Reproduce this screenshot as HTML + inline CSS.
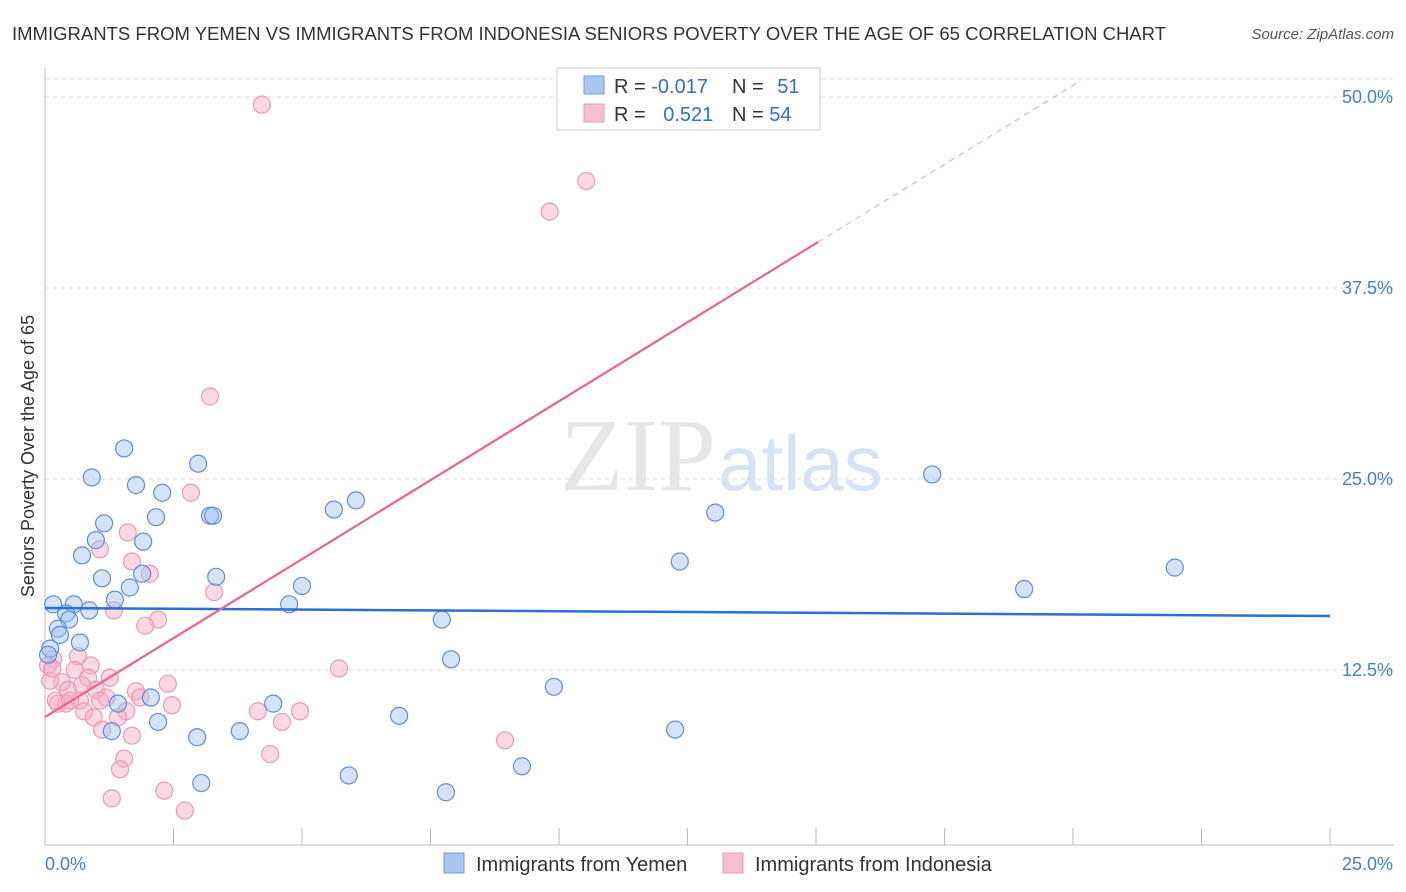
<!DOCTYPE html>
<html><head><meta charset="utf-8"><style>
body{margin:0;background:#fff;font-family:"Liberation Sans",sans-serif;}
svg{display:block}
</style></head><body>
<svg id="chart" width="1406" height="892" xmlns="http://www.w3.org/2000/svg">
<text x="12" y="40" font-size="18" fill="#333" textLength="1154" lengthAdjust="spacingAndGlyphs">IMMIGRANTS FROM YEMEN VS IMMIGRANTS FROM INDONESIA SENIORS POVERTY OVER THE AGE OF 65 CORRELATION CHART</text>
<text x="1394" y="39" font-size="15" fill="#555" text-anchor="end" font-style="italic">Source: ZipAtlas.com</text>
<text x="716" y="490" font-size="104" fill="#e6e6e6" text-anchor="end" font-family="Liberation Serif,serif">ZIP</text>
<text x="718" y="490" font-size="78" fill="#d5e3f3">atlas</text>
<g id="grid"></g><g id="axes"></g><g id="marks"></g>
<text transform="translate(34,456) rotate(-90)" font-size="18" fill="#333" text-anchor="middle">Seniors Poverty Over the Age of 65</text>
<g>
<rect x="557" y="68" width="263" height="62" fill="#fff" stroke="#ccc"/>
<rect x="584" y="76" width="20" height="18" fill="#a9c6ef" stroke="#6f9ddc"/>
<rect x="584" y="104" width="20" height="18" fill="#f7c0d2" stroke="#eb9ab5"/>
<text x="614" y="93" font-size="20" fill="#333">R = <tspan fill="#2f6fd0">-0.017</tspan></text>
<text x="732" y="93" font-size="20" fill="#333">N = <tspan fill="#2f6fd0" dx="8">51</tspan></text>
<text x="614" y="121" font-size="20" fill="#333">R = <tspan fill="#2f6fd0" dx="12">0.521</tspan></text>
<text x="732" y="121" font-size="20" fill="#333">N = <tspan fill="#2f6fd0">54</tspan></text>
</g>
<g>
<rect x="444" y="853" width="20" height="20" fill="#a9c6ef" stroke="#6f9ddc"/>
<text x="476" y="871" font-size="20" fill="#333">Immigrants from Yemen</text>
<rect x="723" y="853" width="20" height="20" fill="#f7c0d2" stroke="#eb9ab5"/>
<text x="755" y="871" font-size="20" fill="#333">Immigrants from Indonesia</text>
</g>
</svg>
<script>
const yTicks=[12.5,25,37.5,50];
const yTickLabels=["12.5%","25.0%","37.5%","50.0%"];
const xTickLabels=["0.0%","25.0%"];
const yemenX=[1.54,0.91,2.98,1.77,2.28,2.16,1.15,3.21,3.27,0.99,1.91,0.72,1.89,3.33,1.11,1.65,1.36,0.16,0.56,0.86,0.41,0.47,0.25,0.29,0.68,0.10,0.06,5.62,6.05,5.00,4.75,7.72,7.90,9.90,6.89,9.28,7.80,5.91,3.04,2.96,3.79,4.44,2.20,2.06,1.42,1.30,13.04,12.35,12.26,17.26,19.05,21.98];
const yemenY=[27.0,25.1,26.0,24.6,24.1,22.5,22.1,22.6,22.6,21.0,20.9,20.0,18.8,18.6,18.5,17.9,17.1,16.8,16.8,16.4,16.2,15.8,15.2,14.8,14.3,13.9,13.5,23.0,23.6,18.0,16.8,15.8,13.2,11.4,9.5,6.2,4.5,5.6,5.1,8.1,8.5,10.3,9.1,10.7,10.3,8.5,22.8,19.6,8.6,25.3,17.8,19.2];
const indoX=[4.22,10.53,9.82,3.21,2.84,1.61,1.07,1.69,2.04,1.34,2.20,1.95,5.72,3.29,0.64,0.89,0.16,0.06,0.58,0.33,0.10,0.84,1.26,0.45,0.99,0.72,1.19,1.77,1.85,2.39,2.47,0.25,0.41,0.68,0.76,0.95,1.58,1.42,1.11,1.69,1.54,1.46,1.30,2.32,2.72,4.14,4.61,4.96,4.38,8.95,0.14,0.21,0.49,1.07];
const indoY=[49.5,44.5,42.5,30.4,24.1,21.5,20.4,19.6,18.8,16.4,15.8,15.4,12.6,17.6,13.4,12.8,13.2,12.8,12.5,11.7,11.8,12.0,12.0,11.2,11.2,11.5,10.7,11.1,10.7,11.6,10.2,10.3,10.3,10.5,9.8,9.4,9.8,9.4,8.6,8.2,6.7,6.0,4.1,4.6,3.3,9.8,9.1,9.8,7.0,7.9,12.6,10.5,10.5,10.5];
const yemenTrend=[16.56,16.03];
const indoTrend=[9.42,2.067];
const X=v=>45+v/25*1285, Y=v=>861-v/12.5*191;
const NS="http://www.w3.org/2000/svg";
function mk(tag,attrs,parent){const e=document.createElementNS(NS,tag);for(const k in attrs)e.setAttribute(k,attrs[k]);document.getElementById(parent).appendChild(e);return e;}
yTicks.forEach((t,i)=>{
 const g=mk('line',{x1:45,x2:1394,y1:Y(t),y2:Y(t),stroke:'#ddd','stroke-dasharray':'4,4'},'grid');
 
 
 const l=mk('text',{x:1393,y:Y(t)+6,'font-size':18,fill:'#3f7fd6','text-anchor':'end'},'axes');
 l.textContent=yTickLabels[i];
 
 
});
const topLine=mk('line',{x1:45,x2:1394,y1:79,y2:79,stroke:'#e4e4e4','stroke-dasharray':'4,4'},'grid');


const ya=mk('line',{x1:45,x2:45,y1:68,y2:845,stroke:'#bbb'},'axes');


const xa=mk('line',{x1:45,x2:1394,y1:845,y2:845,stroke:'#bbb'},'axes');


for(let v=2.5;v<=25;v+=2.5){const t=mk('line',{x1:X(v),x2:X(v),y1:828,y2:845,stroke:'#bbb'},'axes');
 
 }
[[0,'start'],[25,'end']].forEach((p,i)=>{const t=mk('text',{x:p[0]?1393:45,y:870,'font-size':18,fill:'#3f7fd6','text-anchor':p[1]},'axes');t.textContent=xTickLabels[i];
 
 });
function dots(xs,ys,fill,stroke,name){xs.forEach((x,i)=>{const c=mk('circle',{cx:X(x),cy:Y(ys[i]),r:8.5,fill:fill,stroke:stroke,'stroke-width':1.2},'marks');
 
 });}
dots(indoX,indoY,'rgba(244,170,195,0.45)','#eb9ab5','indonesia-point');
dots(yemenX,yemenY,'rgba(160,194,240,0.45)','#5b8fd8','yemen-point');
const bl=mk('line',{x1:X(0),y1:Y(yemenTrend[0]),x2:X(25),y2:Y(yemenTrend[1]),stroke:'#2a6fd6','stroke-width':2.5},'marks');


const xe=15.04, yTop=51, xt=(yTop-indoTrend[0])/indoTrend[1];
const pl=mk('line',{x1:X(0),y1:Y(indoTrend[0]),x2:X(xe),y2:Y(indoTrend[0]+indoTrend[1]*xe),stroke:'#e8638f','stroke-width':2.2},'marks');


const pd=mk('line',{x1:X(xe),y1:Y(indoTrend[0]+indoTrend[1]*xe),x2:X(xt),y2:Y(yTop),stroke:'#eda3bb','stroke-width':1,'stroke-dasharray':'6,5'},'marks');


</script>
</body></html>
